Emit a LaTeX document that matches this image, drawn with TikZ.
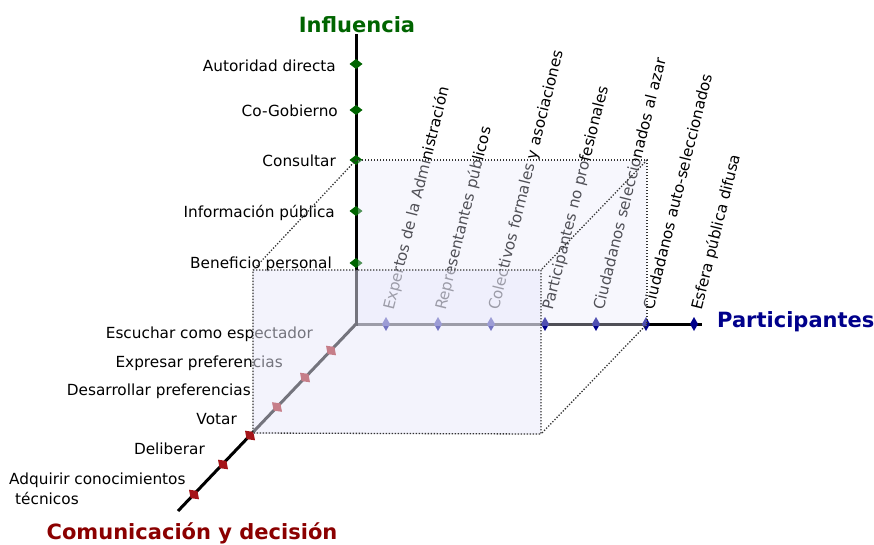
\documentclass[tikz,border=0pt]{standalone}
\usepackage{fontspec}
\setmainfont{DejaVu Sans}
\definecolor{ygreen}{RGB}{0,100,0}
\definecolor{xblue}{RGB}{0,0,139}
\definecolor{ztitle}{RGB}{139,0,0}
\definecolor{zmark}{RGB}{165,20,25}
\definecolor{lav}{RGB}{232,232,250}
\newcommand\gdiam[1]{\fill[ygreen] (#1) +(-6.5,0) -- +(0,-5) -- +(6.5,0) -- +(0,5) -- cycle;}
\newcommand\bdiam[1]{\fill[xblue] (#1) +(-4,0) -- +(0,-7) -- +(4,0) -- +(0,7) -- cycle;}
\newcommand\rdiam[1]{\fill[zmark] (#1) +(-3.4,3.6) -- +(5,4.8) -- +(3.4,-3.6) -- +(-5,-4.8) -- cycle;}
\begin{document}
\begin{tikzpicture}[x=1pt,y=-1pt,
  axisline/.style={line width=3pt,line join=miter},
  lbl/.style={inner sep=0pt,font=\fontsize{15.3}{20}\selectfont},
  rlbl/.style={lbl,anchor=base west,rotate=76},
  ttl/.style={inner sep=0pt,font=\fontsize{21}{24}\selectfont\bfseries},
  boxedge/.style={black!80,line width=1.3pt,dash pattern=on 1.3pt off 1.7pt},
]
\useasboundingbox (0,0) rectangle (874,544);
% axis points
\coordinate (O) at (356,324);
\coordinate (Ytop) at (356,34);
\coordinate (Xend) at (702,324);
\coordinate (Zend) at (178,511);
% box corners
\coordinate (B1) at (356,160);
\coordinate (B2) at (647,160);
\coordinate (B3) at (647,324);
\coordinate (F1) at (253,270);
\coordinate (F2) at (541,270);
\coordinate (F3) at (541,434);
\coordinate (F4) at (253,433);
% ticks
\coordinate (y1) at (356,64);
\coordinate (y2) at (356,110);
\coordinate (y3) at (356,160);
\coordinate (y4) at (356,211);
\coordinate (y5) at (356,263);
\coordinate (x1) at (386,324);
\coordinate (x2) at (438,324);
\coordinate (x3) at (491,324);
\coordinate (x4) at (545,324);
\coordinate (x5) at (596,324);
\coordinate (x6) at (646,324);
\coordinate (x7) at (694,324);
\coordinate (z1) at (331,350.5);
\coordinate (z2) at (305,377.5);
\coordinate (z3) at (277,407);
\coordinate (z4) at (250,435.5);
\coordinate (z5) at (223,464.5);
\coordinate (z6) at (194,494.5);
% axes
\draw[axisline] (Ytop) -- (O) -- (Xend);
\draw[axisline] (O) -- (Zend);
% marks
\foreach \p in {y1,y2,y3,y4,y5} {\gdiam{\p}}
\foreach \p in {x1,x2,x3,x4,x5,x6,x7} {\bdiam{\p}}
\foreach \p in {z1,z2,z3,z4,z5,z6} {\rdiam{\p}}
% vertical axis labels
\node[lbl,anchor=base east] (ly1) at (336,71) {Autoridad directa};
\node[lbl,anchor=base east] (ly2) at (338,116) {Co-Gobierno};
\node[lbl,anchor=base east] (ly3) at (336,166) {Consultar};
\node[lbl,anchor=base east] (ly4) at (335,217) {Información pública};
\node[lbl,anchor=base east] (ly5) at (332,268) {Beneficio personal};
% horizontal axis labels
\node[rlbl] (lx1) at (393.5,311) {Expertos de la Administración};
\node[rlbl] (lx2) at (445.5,311) {Representantes públicos};
\node[rlbl] (lx3) at (498.5,311) {Colectivos formales y asociaciones};
\node[rlbl] (lx4) at (552.5,311) {Participantes no profesionales};
\node[rlbl] (lx5) at (603.5,311) {Ciudadanos seleccionados al azar};
\node[rlbl] (lx6) at (653.5,311) {Ciudadanos auto-seleccionados};
\node[rlbl] (lx7) at (701.5,311) {Esfera pública difusa};
% diagonal axis labels
\node[lbl,anchor=base east] (lz1) at (313,338) {Escuchar como espectador};
\node[lbl,anchor=base east] (lz2) at (283,367) {Expresar preferencias};
\node[lbl,anchor=base east] (lz3) at (251,395) {Desarrollar preferencias};
\node[lbl,anchor=base east] (lz4) at (237,424) {Votar};
\node[lbl,anchor=base east] (lz5) at (205,454) {Deliberar};
\node[lbl,anchor=north west,align=left] (lz6) at (9,472.5) {Adquirir conocimientos\\\hspace*{6pt}técnicos};
% translucent box faces
\fill[lav,fill opacity=0.35] (357.6,160) rectangle (647,325.6);
\fill[lav,fill opacity=0.5] (F1) rectangle (F3);
% dotted box edges
\draw[boxedge] (F1) -- (F2) -- (F3) -- (F4) -- cycle;
\draw[boxedge] (B1) -- (B2) -- (B3);
\draw[boxedge] (B1) -- (F1);
\draw[boxedge] (B2) -- (F2);
\draw[boxedge] (B3) -- (F3);
% axis titles
\node[ttl,text=ygreen,anchor=base] (ty) at (357,32) {Influencia};
\node[ttl,text=xblue,anchor=base west] (tx) at (717,327) {Participantes};
\node[ttl,text=ztitle,anchor=base] (tz) at (192,539) {Comunicación y decisión};
\end{tikzpicture}
\end{document}
